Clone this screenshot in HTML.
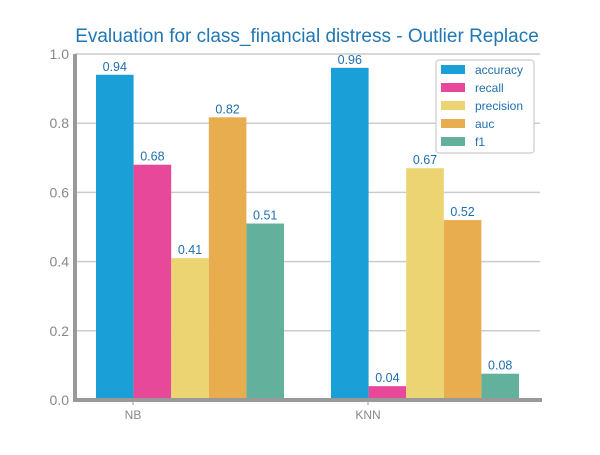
<!DOCTYPE html>
<html><head><meta charset="utf-8"><style>
body{margin:0;background:#fff;}
svg text{font-family:"Liberation Sans","DejaVu Sans",sans-serif;}
</style></head><body>
<svg id="chart" width="600" height="450" xmlns="http://www.w3.org/2000/svg">
<text x="307" y="42" text-anchor="middle" font-size="19" fill="#1f77b4">Evaluation for class_financial distress - Outlier Replace</text>
<g id="grid"></g><g id="bars"></g><g id="labels"></g><g id="axes"></g><g id="legend"></g>
</svg>
<script>
const categories = ["NB", "KNN"];
const metrics = ["accuracy", "recall", "precision", "auc", "f1"];
const colors = ["#1a9fd6", "#e8489a", "#ecd473", "#e8ad4f", "#63b19c"];
const accuracy = [0.94, 0.96];
const recall = [0.68, 0.04];
const precision = [0.41, 0.67];
const auc = [0.817, 0.52];
const f1 = [0.51, 0.076];
const yTicks = [0.0, 0.2, 0.4, 0.6, 0.8, 1.0];
const series = [accuracy, recall, precision, auc, f1];

const NS = "http://www.w3.org/2000/svg";
const x0 = 75, x1 = 540, yTop = 54, yBot = 400;
const y = v => yBot - v * (yBot - yTop);
const groupStart = [96, 331], bw = 37.6, tickX = [133, 368];
function mk(tag, attrs, parent){const e=document.createElementNS(NS,tag);for(const k in attrs)e.setAttribute(k,attrs[k]);document.getElementById(parent).appendChild(e);return e;}

yTicks.forEach(t=>{
  const g = mk("line",{x1:x0,x2:x1,y1:y(t),y2:y(t),stroke:"#cccccc","stroke-width":1.5},"grid");
  
  
  const tx = mk("text",{x:69,y:y(t)+5,"text-anchor":"end","font-size":14,fill:"#888"},"axes");
  tx.textContent = t.toFixed(1);
  
  
});
series.forEach((s,m)=>{
  s.forEach((v,c)=>{
    const bx = groupStart[c] + m*bw;
    const r = mk("rect",{x:bx,y:y(v),width:bw,height:yBot-y(v),fill:colors[m]},"bars");
    
    
    const t = mk("text",{x:bx+bw/2,y:y(v)-4,"text-anchor":"middle","font-size":12.5,fill:"#1f6fb0"},"labels");
    t.textContent = v.toFixed(2);
    
    
  });
});
const la = mk("line",{x1:x0,x2:x0,y1:yTop,y2:yBot+2,stroke:"#999","stroke-width":4},"axes");


const lb = mk("line",{x1:x0-2,x2:x1+2,y1:yBot,y2:yBot,stroke:"#999","stroke-width":4},"axes");


categories.forEach((c,i)=>{
  const tk = mk("line",{x1:tickX[i],x2:tickX[i],y1:yBot,y2:yBot+5,stroke:"#999","stroke-width":1},"axes");
  
  
  const t = mk("text",{x:tickX[i],y:419,"text-anchor":"middle","font-size":12,fill:"#888"},"axes");
  t.textContent = c;
  
  
});
const box = mk("rect",{x:436,y:60,width:98,height:93,rx:3,fill:"#fff",stroke:"#ccc","stroke-width":1.2},"legend");


metrics.forEach((m,i)=>{
  const ly = 70 + i*18;
  const sw = mk("rect",{x:441,y:ly-5,width:24,height:9,fill:colors[i]},"legend");
  
  
  const t = mk("text",{x:475,y:ly+4,"font-size":12,fill:"#1f6fb0"},"legend");
  t.textContent = m;
  
  
});
</script>
</body></html>
